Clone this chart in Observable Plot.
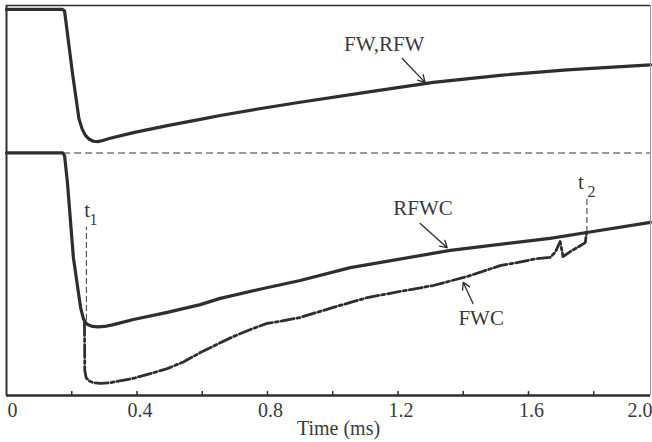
<!DOCTYPE html>
<html>
<head>
<meta charset="utf-8">
<script src="https://cdn.jsdelivr.net/npm/d3@7"></script>
<script src="https://cdn.jsdelivr.net/npm/@observablehq/plot@0.6"></script>
<style>
  html, body { margin: 0; padding: 0; background: #fff; }
  #chart svg { display: block; }
</style>
</head>
<body>
<div id="chart"></div>
<script>
// ---- Data (time in ms, signal in arbitrary units 0–100) ----
const xMax = 1.974;
const yMax = 100;

// FW, RFW (upper trace)
const fwTime  = [0.000, 0.172, 0.178, 0.202, 0.222, 0.232, 0.242, 0.254, 0.266, 0.280, 0.295, 0.315, 0.389, 0.493, 0.594, 0.655, 0.780, 0.900, 1.106, 1.308, 1.513, 1.718, 1.974];
const fwValue = [99.0, 99.0, 98.6, 82.8, 71.0, 68.3, 66.7, 65.7, 65.2, 65.1, 65.4, 65.9, 67.4, 69.2, 70.8, 71.8, 73.6, 75.2, 77.8, 80.3, 82.1, 83.5, 84.8];

// RFWC (lower reference trace)
const rfwcTime  = [0.000, 0.172, 0.178, 0.187, 0.205, 0.227, 0.236, 0.246, 0.260, 0.280, 0.300, 0.325, 0.389, 0.493, 0.594, 0.655, 0.780, 0.900, 1.054, 1.360, 1.666, 1.779, 1.974];
const rfwcValue = [62.2, 62.2, 61.5, 54.4, 35.4, 22.6, 19.6, 18.3, 17.8, 17.6, 17.7, 18.1, 19.5, 21.3, 23.3, 24.9, 27.3, 29.5, 32.8, 37.2, 40.3, 41.8, 44.4];

// FWC (measured trace, between t1 and t2)
const fwcTime  = [0.239, 0.240, 0.244, 0.252, 0.266, 0.288, 0.319, 0.389, 0.441, 0.493, 0.542, 0.594, 0.655, 0.695, 0.750, 0.799, 0.839, 0.900, 1.002, 1.106, 1.207, 1.308, 1.412, 1.513, 1.565, 1.626, 1.666, 1.682, 1.697, 1.706, 1.728, 1.749, 1.774, 1.778];
const fwcValue = [18.7, 6.4, 4.6, 3.8, 3.3, 3.1, 3.3, 4.4, 5.6, 6.9, 8.6, 11.0, 13.5, 15.1, 17.0, 18.5, 19.0, 20.0, 22.6, 25.1, 26.7, 28.2, 30.5, 33.3, 34.1, 35.1, 35.4, 36.7, 39.5, 35.6, 36.9, 37.9, 39.2, 41.8];

// Zero level of the lower traces (dashed)
const baselineValue = 62.2;
const baselineStart = 0.175;

// Markers t1, t2
const markers = [
  {t: 0.245, y1: 19.2, y2: 43.1, name: "t", sub: "1", lx: 0.247, ly: 47.6, sx: 0.267, sy: 45.0},
  {t: 1.779, y1: 41.8, y2: 50.8, name: "t", sub: "2", lx: 1.761, ly: 54.6, sx: 1.793, sy: 52.3}
];

// Axis ticks and labels
const xTicks = [0.2, 0.4, 0.6, 0.8, 1.0, 1.2, 1.4, 1.6, 1.8];
const xTickLabels = [
  {t: 0.4, label: "0.4"},
  {t: 0.8, label: "0.8"},
  {t: 1.2, label: "1.2"},
  {t: 1.6, label: "1.6"}
];
const xLabel = "Time (ms)";

// Annotations
const annotations = [
  {t: 1.158, v: 90.0, label: "FW,RFW"},
  {t: 1.277, v: 47.9, label: "RFWC"},
  {t: 1.455, v: 19.7, label: "FWC"}
];
const arrows = [
  {x1: 1.213, y1: 86.4, x2: 1.283, y2: 80.3},
  {x1: 1.268, y1: 44.1, x2: 1.351, y2: 37.9},
  {x1: 1.430, y1: 23.6, x2: 1.400, y2: 29.0}
];

// ---- Build tables ----
const fw   = fwTime.map((t, i) => ({t, v: fwValue[i]}));
const rfwc = rfwcTime.map((t, i) => ({t, v: rfwcValue[i]}));
const fwc  = fwcTime.map((t, i) => ({t, v: fwcValue[i]}));

const ink = "#2e2e2e";
const textInk = "#3a3a3a";

const chart = Plot.plot({
  width: 652,
  height: 442,
  marginLeft: 6,
  marginRight: 2,
  marginTop: 5,
  marginBottom: 47,
  style: {fontFamily: "'Liberation Serif', 'Times New Roman', serif", fontSize: "20px", background: "#fff", color: textInk},
  x: {domain: [0, xMax], axis: null},
  y: {domain: [0, yMax], axis: null},
  marks: [
    // dashed zero level of lower traces
    Plot.ruleY([baselineValue], {x1: baselineStart, x2: xMax, stroke: "#777", strokeWidth: 1.5, strokeDasharray: "7,4"}),
    // t1 / t2 dashed markers
    Plot.ruleX(markers, {x: "t", y1: "y1", y2: "y2", stroke: "#555", strokeWidth: 1.2, strokeDasharray: "6,3"}),
    // traces
    Plot.line(fw,   {x: "t", y: "v", stroke: ink, strokeWidth: 3.2, strokeLinejoin: "round"}),
    Plot.line(rfwc, {x: "t", y: "v", stroke: ink, strokeWidth: 3.2, strokeLinejoin: "round"}),
    Plot.line(fwc,  {x: "t", y: "v", stroke: ink, strokeWidth: 2.8, strokeLinejoin: "round", strokeDasharray: "13,3,3,3"}),
    // annotations
    Plot.arrow(arrows, {x1: "x1", y1: "y1", x2: "x2", y2: "y2", stroke: ink, strokeWidth: 1.3, headLength: 9, bend: 0}),
    Plot.text(annotations, {x: "t", y: "v", text: "label", fontSize: 21, fill: textInk, textAnchor: "middle", lineAnchor: "middle"}),
    Plot.text(markers, {x: "lx", y: "ly", text: "name", fontSize: 21, fill: textInk, lineAnchor: "middle"}),
    Plot.text(markers, {x: "sx", y: "sy", text: "sub", fontSize: 16, fill: textInk, lineAnchor: "middle"}),
    // frame
    Plot.ruleX([xMax], {stroke: "#999", strokeWidth: 1}),
    Plot.ruleY([yMax], {stroke: ink, strokeWidth: 1.5}),
    Plot.ruleX([0], {stroke: ink, strokeWidth: 2}),
    Plot.ruleY([0], {stroke: ink, strokeWidth: 2.5}),
    // x ticks (inward)
    Plot.ruleX(xTicks, {y1: 0, y2: 1.0, stroke: ink, strokeWidth: 1.5}),
    // tick labels
    Plot.text(xTickLabels, {x: "t", y: 0, text: "label", dy: 15, dx: 3, fill: textInk, lineAnchor: "middle"}),
    Plot.text(["0"], {x: 0, y: 0, text: d => d, dy: 15, dx: 1, textAnchor: "start", fill: textInk, lineAnchor: "middle"}),
    Plot.text(["2.0"], {x: xMax, y: 0, text: d => d, dy: 15, dx: 2, textAnchor: "end", fill: textInk, lineAnchor: "middle"}),
    // axis label
    Plot.text([xLabel], {frameAnchor: "bottom", text: d => d, dy: 33, dx: 10, fill: textInk, lineAnchor: "middle"})
  ]
});

document.getElementById("chart").appendChild(chart);
</script>
</body>
</html>
